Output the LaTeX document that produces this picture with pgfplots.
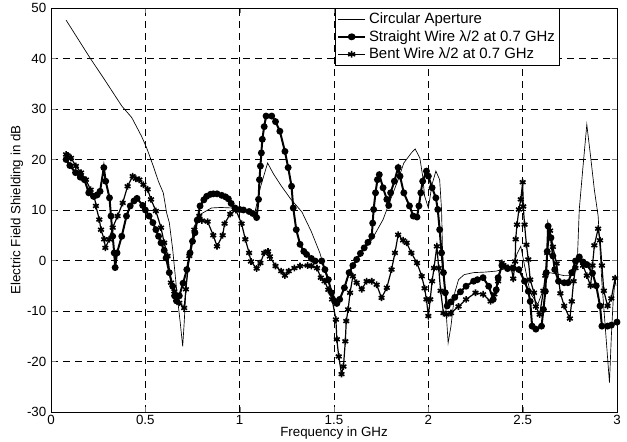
\documentclass[border=0pt]{standalone}
\usepackage{fontspec}
\setmainfont{Liberation Sans}
\usepackage{pgfplots}
\pgfplotsset{compat=1.18}

% Shielding effectiveness versus frequency for three aperture loadings
\pgfplotstableread{
f s
0.08 47.6
0.207 40.1
0.277 36.2
0.375 30.6
0.428 28.3
0.48 24.6
0.507 22.3
0.542 18.7
0.569 15.7
0.595 13.4
0.613 9.4
0.627 7.5
0.645 2.2
0.657 -2.4
0.671 -7.7
0.685 -12.3
0.698 -17.0
0.706 -12.3
0.715 -6.0
0.725 -1.0
0.74 3.0
0.76 6.8
0.79 9.1
0.85 10.4
0.90 10.5
0.96 10.4
1.01 10.0
1.08 9.4
1.11 14.5
1.148 19.3
1.18 17.1
1.22 14.8
1.27 12.2
1.33 9.6
1.38 5.7
1.425 1.5
1.44 -0.4
1.46 -3.1
1.49 -6.3
1.51 -7.7
1.53 -7.8
1.555 -5.5
1.58 -2.5
1.62 0.2
1.66 2.2
1.70 4.1
1.73 6.1
1.76 8.1
1.80 12.1
1.84 16.0
1.87 19.3
1.91 21.3
1.93 22.1
1.955 20.3
1.97 16.7
1.98 12.8
2.00 10.4
2.02 15.1
2.04 17.7
2.06 16.0
2.07 10.1
2.075 2.2
2.09 -7.7
2.105 -16.3
2.12 -13.0
2.14 -6.4
2.16 -3.8
2.19 -2.8
2.24 -2.4
2.30 -2.3
2.36 -2.1
2.41 -1.6
2.45 -1.4
2.47 1.3
2.49 2.8
2.51 -1.0
2.54 -6.4
2.58 -8.7
2.61 -5.7
2.64 -2.4
2.67 -2.6
2.72 -3.0
2.77 -3.0
2.79 0.2
2.80 10.1
2.82 18.7
2.84 26.9
2.86 20.6
2.88 14.0
2.90 8.8
2.92 -4.4
2.94 -14.3
2.96 -24.2
2.97 -15.0
2.98 -7.7
2.99 -3.8
2.995 -5.0
}\circular

\pgfplotstableread{
f s
0.08 20.0
0.10 18.8
0.13 17.4
0.155 16.5
0.177 16.0
0.20 13.4
0.225 12.7
0.245 13.0
0.26 13.7
0.28 18.4
0.29 15.7
0.31 12.4
0.318 8.8
0.327 4.8
0.335 1.5
0.34 -1.4
0.35 1.5
0.375 4.8
0.40 8.8
0.42 10.8
0.44 11.8
0.456 12.3
0.486 10.9
0.50 10.0
0.52 8.8
0.54 7.5
0.556 6.1
0.57 4.8
0.583 3.5
0.60 2.0
0.61 0.5
0.627 -2.4
0.645 -5.1
0.655 -7.0
0.665 -8.0
0.68 -7.0
0.70 -4.5
0.72 -1.8
0.737 1.5
0.75 3.8
0.763 5.5
0.775 8.0
0.79 10.8
0.81 12.0
0.825 12.7
0.845 13.1
0.86 13.2
0.88 13.2
0.905 12.9
0.925 12.6
0.94 12.2
0.955 11.3
0.975 10.4
1.00 10.1
1.02 10.0
1.05 9.7
1.07 9.3
1.09 8.5
1.10 12.1
1.105 16.0
1.11 18.7
1.115 21.3
1.12 24.0
1.13 26.5
1.14 28.6
1.17 28.6
1.19 27.5
1.213 25.6
1.24 21.6
1.257 18.4
1.275 14.7
1.284 10.4
1.30 6.1
1.32 3.2
1.34 1.8
1.355 1.2
1.38 0.4
1.40 -0.1
1.435 -0.1
1.452 -1.8
1.47 -3.8
1.487 -6.4
1.505 -8.1
1.515 -8.5
1.53 -7.7
1.555 -5.4
1.58 -2.4
1.60 -1.0
1.62 0.2
1.64 1.4
1.66 2.5
1.68 3.6
1.70 4.8
1.705 7.4
1.71 10.1
1.72 13.4
1.73 16.0
1.74 17.0
1.76 14.4
1.78 12.1
1.79 10.9
1.80 13.4
1.82 15.7
1.84 18.4
1.85 16.7
1.87 13.4
1.90 10.8
1.92 8.8
1.94 8.6
1.95 10.8
1.96 13.4
1.97 15.7
1.99 17.7
2.00 16.7
2.02 14.4
2.04 12.4
2.05 10.1
2.06 6.1
2.07 1.5
2.08 -2.4
2.09 -6.4
2.10 -9.0
2.12 -8.2
2.14 -7.3
2.17 -6.2
2.20 -5.1
2.24 -4.1
2.26 -3.8
2.29 -3.4
2.32 -5.1
2.344 -7.7
2.36 -5.8
2.37 -3.4
2.39 -1.0
2.42 -1.6
2.45 -1.5
2.48 -1.8
2.51 -4.1
2.53 -6.1
2.54 -8.1
2.55 -13.0
2.57 -13.6
2.60 -13.0
2.61 -9.7
2.62 -6.1
2.625 -2.4
2.63 1.8
2.635 6.8
2.65 4.5
2.66 0.9
2.67 -1.8
2.69 -4.1
2.72 -4.4
2.74 -4.4
2.76 -2.4
2.78 -0.1
2.80 0.7
2.82 -0.3
2.84 -0.8
2.87 -2.5
2.89 -5.0
2.91 -9.0
2.92 -13.0
2.95 -13.0
2.97 -12.8
3.00 -12.2
}\straight

\pgfplotstableread{
f s
0.08 21.0
0.088 20.8
0.106 20.3
0.132 18.7
0.159 17.4
0.185 16.0
0.21 14.0
0.23 12.7
0.238 10.8
0.256 8.1
0.265 6.1
0.282 4.2
0.288 2.5
0.309 4.2
0.327 6.5
0.353 8.8
0.38 11.4
0.406 14.7
0.433 16.7
0.45 16.2
0.468 16.0
0.49 15.0
0.512 14.1
0.53 12.1
0.556 9.8
0.583 6.5
0.60 3.5
0.618 0.9
0.636 -4.4
0.654 -6.1
0.68 -8.4
0.706 -9.4
0.715 -5.7
0.733 0.9
0.76 6.1
0.786 8.8
0.80 7.9
0.83 7.7
0.86 5.0
0.88 2.8
0.91 5.0
0.92 7.3
0.95 9.2
0.98 10.0
1.01 7.3
1.03 4.2
1.05 1.5
1.06 -0.2
1.09 -1.6
1.11 -0.5
1.13 1.5
1.15 1.8
1.16 0.8
1.19 -1.1
1.22 -2.1
1.24 -3.0
1.26 -2.1
1.29 -1.5
1.32 -1.1
1.36 -1.0
1.38 -1.1
1.41 -1.5
1.43 -3.4
1.45 -4.1
1.47 -5.8
1.49 -7.7
1.51 -11.7
1.515 -15.6
1.525 -19.0
1.54 -22.5
1.55 -21.0
1.56 -16.0
1.565 -12.0
1.575 -9.7
1.585 -6.4
1.60 -3.1
1.62 -4.4
1.647 -5.7
1.673 -4.1
1.70 -4.1
1.726 -4.8
1.752 -7.4
1.78 -5.4
1.805 -1.8
1.823 1.5
1.84 5.1
1.866 4.0
1.885 3.5
1.91 1.5
1.94 -0.5
1.965 -3.1
1.98 -5.5
1.99 -7.7
2.00 -11.0
2.01 -7.7
2.02 -4.1
2.03 -1.5
2.045 2.8
2.055 -1.5
2.065 -6.0
2.08 -10.4
2.097 -10.7
2.12 -10.4
2.16 -9.1
2.20 -7.7
2.25 -6.4
2.29 -6.7
2.33 -8.1
2.35 -6.7
2.37 -4.1
2.39 -0.5
2.41 -1.2
2.44 -1.5
2.45 -3.6
2.46 -0.2
2.463 4.2
2.47 7.1
2.48 10.1
2.49 12.1
2.50 15.5
2.503 10.7
2.51 7.1
2.52 3.1
2.53 0.2
2.54 -3.8
2.56 -6.4
2.57 -9.1
2.59 -10.7
2.61 -6.0
2.62 -3.0
2.63 1.5
2.645 5.9
2.66 2.7
2.68 -0.6
2.70 -6.5
2.72 -9.0
2.75 -11.5
2.76 -8.1
2.77 -4.1
2.78 -1.5
2.80 0.3
2.82 -1.0
2.84 -3.0
2.86 -5.0
2.87 -1.0
2.88 3.0
2.90 6.3
2.91 4.0
2.92 -1.0
2.93 -6.0
2.95 -9.0
2.97 -7.5
2.99 -3.5
}\bent

\begin{document}
\begin{tikzpicture}
\begin{axis}[
  name=ax,
  scale only axis,
  width=424.5pt, height=303pt,
  xmin=0, xmax=3, ymin=-30, ymax=50,
  xtick={0,0.5,...,3},
  ytick={-30,-20,...,50},
  xticklabels={0,0.5,1,1.5,2,2.5,3},
  /pgf/number format/assume math mode=true,
  tick label style={font=\fontsize{10}{12}\selectfont},
  label style={font=\fontsize{10}{12}\selectfont},
  xticklabel style={yshift=1pt},
  xlabel={Frequency in GHz},
  ylabel={Electric Field Shielding in dB},
  xlabel style={yshift=5pt},
  ylabel style={yshift=-4pt},
  tick align=inside,
  major tick length=4pt,
  grid=major,
  major grid style={black, line width=0.5pt, dash pattern=on 5pt off 4pt},
  axis line style={black, line width=0.6pt},
  legend cell align=left,
  legend style={at={(0.899,1)}, anchor=north east, draw=black,
    font=\fontsize{11.2}{12.5}\selectfont, inner sep=1.5pt, row sep=-0.5pt,
    cells={anchor=west}},
  legend image post style={xscale=1.2},
]
\addplot[black, line width=0.5pt] table[x=f, y=s] {\circular};
\addlegendentry{Circular Aperture}
\addplot[black, line width=1.5pt, mark=*, mark size=1.8pt] table[x=f, y=s] {\straight};
\addlegendentry{Straight Wire λ/2 at 0.7 GHz}
\addplot[black, line width=0.9pt, mark=asterisk, mark size=2.5pt,
  mark options={line width=1.2pt}] table[x=f, y=s] {\bent};
\addlegendentry{Bent Wire λ/2 at 0.7 GHz}
\end{axis}
\pgfresetboundingbox
\path[use as bounding box] ([shift={(-38.25pt,-22.5pt)}]ax.south west)
  rectangle ([shift={(7.5pt,6pt)}]ax.north east);
\end{tikzpicture}
\end{document}
